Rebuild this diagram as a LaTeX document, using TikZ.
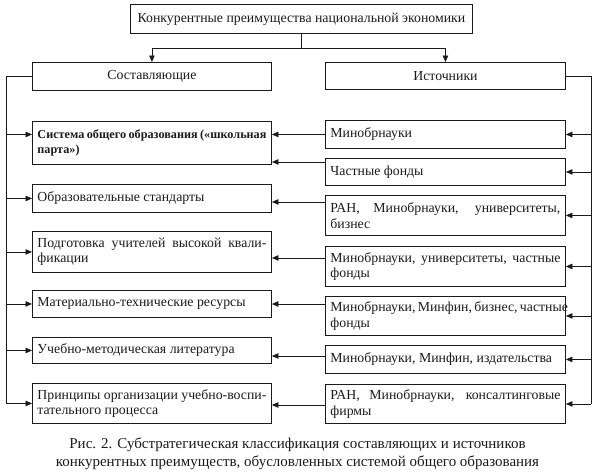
\documentclass[tikz,border=0pt]{standalone}
\usepackage{fontspec}
\setmainfont{Liberation Serif}
\usepackage{xcolor}
\usepackage{tikz}
\usetikzlibrary{positioning,arrows.meta,calc}
\definecolor{ink}{HTML}{1A1A1A}
\tikzset{
  headbox/.style={draw=ink,line width=0.9pt,inner xsep=5pt,inner ysep=4pt,anchor=north west,
    font=\fontsize{13.8}{15.5}\selectfont,text=ink},
  partbox/.style={headbox,text width=229pt,align=justify},
  srcbox/.style={headbox,text width=230pt,align=justify},
  link/.style={line width=0.7pt,draw=ink},
  flow/.style={-{Triangle[length=6.5pt,width=5.5pt]},line width=0.7pt,draw=ink},
}
\begin{document}
\begin{tikzpicture}[x=1pt,y=-1pt]
  \useasboundingbox (0,0) rectangle (595,475);
  \node[headbox,minimum width=342pt,minimum height=29pt] (top) at (130,4)
    {Конкурентные преимущества национальной экономики};
  \node[headbox,minimum width=239pt,minimum height=28pt] (sost) at (32,62) {Составляющие};
  \node[headbox,minimum width=240pt,minimum height=27pt] (ist) at (325,62) {Источники};
  \node[partbox,minimum height=43pt,font=\fontsize{12.2}{15.5}\selectfont\bfseries] (l1) at (32,121)
    {\makebox[229pt][s]{Система общего образования («школьная}\\парта»)};
  \node[partbox,minimum height=28pt] (l2) at (32,184) {Образовательные стандарты};
  \node[partbox,minimum height=41pt] (l3) at (32,231) {Подготовка учителей высокой квали-\linebreak фикации};
  \node[partbox,minimum height=27pt] (l4) at (32,290) {Материально-технические ресурсы};
  \node[partbox,minimum height=26pt] (l5) at (32,337) {Учебно-методическая литература};
  \node[partbox,minimum height=40pt] (l6) at (32,383) {Принципы организации учебно-воспи-\linebreak тательного процесса};
  \node[srcbox,minimum height=28pt] (r1) at (325,120) {Минобрнауки};
  \node[srcbox,minimum height=27pt] (r2) at (325,158) {Частные фонды};
  \node[srcbox,minimum height=40pt] (r3) at (325,195) {РАН, Минобрнауки, университеты,\linebreak бизнес};
  \node[srcbox,minimum height=40pt] (r4) at (325,246) {Минобрнауки, университеты, частные\linebreak фонды};
  \node[srcbox,minimum height=39pt] (r5) at (325,296)
    {\makebox[230pt][s]{Минобрнауки,\,Минфин,\,бизнес,\,частные}\\фонды};
  \node[srcbox,minimum height=28pt] (r6) at (325,345) {Минобрнауки, Минфин, издательства};
  \node[srcbox,minimum height=39pt] (r7) at (325,384) {РАН, Минобрнауки, консалтинговые\linebreak фирмы};
  \draw[link] (top.south) -- ++(0,14) coordinate (fork);
  \draw[flow] (fork) -| (sost.north);
  \draw[flow] (fork) -| (ist.north);
  \draw[link] (sost.west) -- ++(-26,0) coordinate (lbus) -- (lbus |- l6.west);
  \draw[flow] (lbus |- r1.west) -- (l1.west |- r1.west);
  \draw[flow] (lbus |- l2.west) -- (l2.west);
  \draw[flow] (lbus |- l3.west) -- (l3.west);
  \draw[flow] (lbus |- l4.west) -- (l4.west);
  \draw[flow] (lbus |- l5.west) -- (l5.west);
  \draw[flow] (lbus |- l6.west) -- (l6.west);
  \draw[link] (ist.east) -- ++(25,0) coordinate (rbus) -- (rbus |- r7.east);
  \draw[flow] (rbus |- r1.east) -- (r1.east);
  \draw[flow] (rbus |- r2.east) -- (r2.east);
  \draw[flow] (rbus |- r3.east) -- (r3.east);
  \draw[flow] (rbus |- r4.east) -- (r4.east);
  \draw[flow] (rbus |- r5.east) -- (r5.east);
  \draw[flow] (rbus |- r6.east) -- (r6.east);
  \draw[flow] (rbus |- r7.east) -- (r7.east);
  \draw[flow] (r1.west) -- (l1.east |- r1.west);
  \draw[flow] ([yshift=-4pt]r2.north west) -- ([yshift=-4pt]r2.north west -| l1.east);
  \draw[flow] ([yshift=-7pt]r3.north west) -- ([yshift=-7pt]r3.north west -| l2.east);
  \draw[flow] ([yshift=-12pt]r4.north west) -- ([yshift=-12pt]r4.north west -| l3.east);
  \draw[flow] ([yshift=-8pt]r5.north west) -- ([yshift=-8pt]r5.north west -| l4.east);
  \draw[flow] ([yshift=-11pt]r6.north west) -- ([yshift=-11pt]r6.north west -| l5.east);
  \draw[flow] ([yshift=-21pt]r7.north west) -- ([yshift=-21pt]r7.north west -| l6.east);
  \node[align=center,font=\fontsize{15}{18}\selectfont,text=ink] (caption) at (297.5,454)
    {Рис. 2. Субстратегическая классификация составляющих и источников\\
     конкурентных преимуществ, обусловленных системой общего образования};
\end{tikzpicture}
\end{document}
